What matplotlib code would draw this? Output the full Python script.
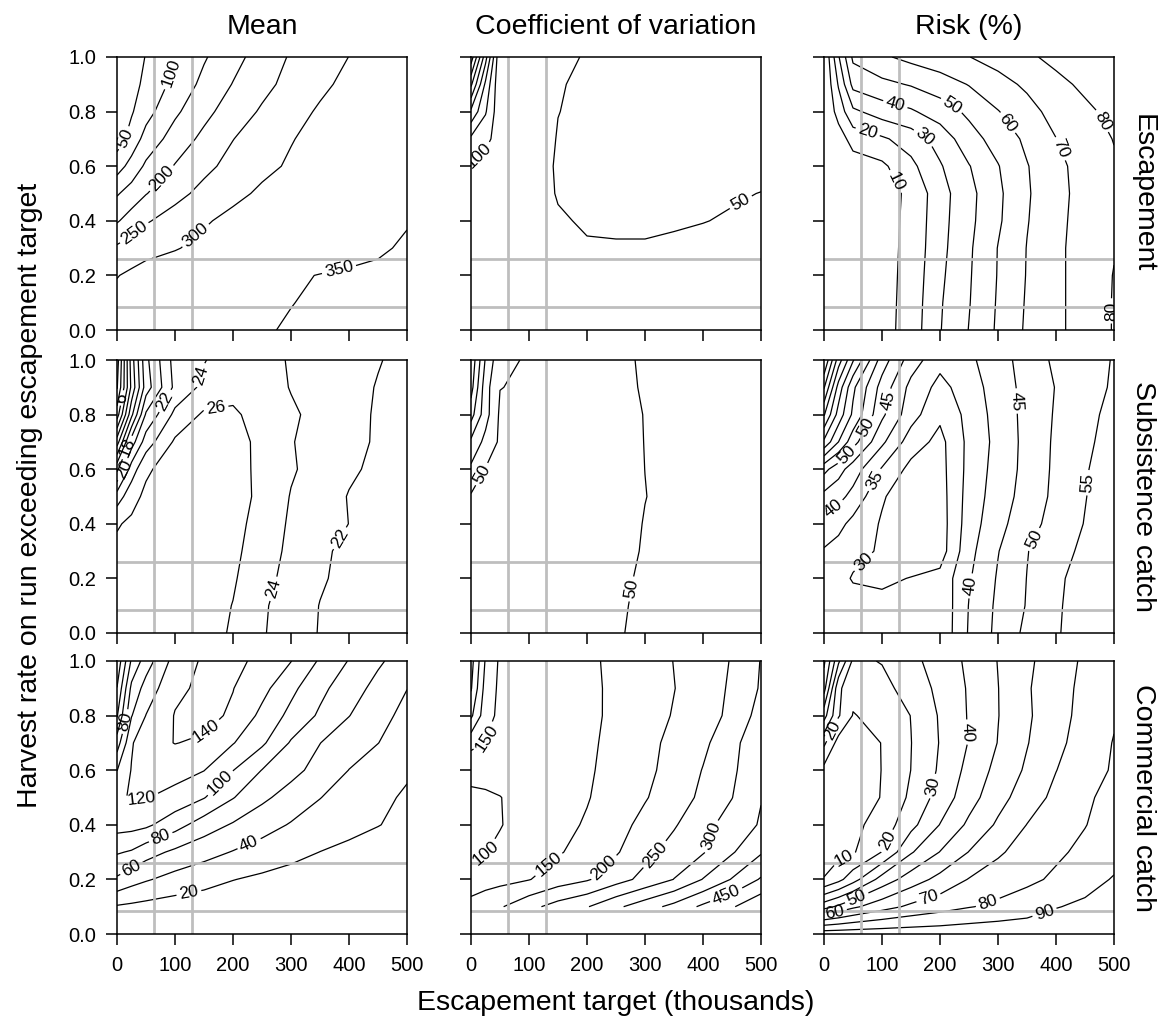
import numpy as np
import matplotlib
matplotlib.use("Agg")
import matplotlib.pyplot as plt
from matplotlib.ticker import FormatStrFormatter

plt.rcParams['font.family'] = ['Liberation Sans', 'DejaVu Sans']

# grid: escapement target (thousands) x harvest rate; rows below go from rate 1.0 down to 0.0
targets = [0, 25, 50, 100, 150, 200, 250, 300, 350, 400, 450, 500]
rates = [1.0, 0.9, 0.8, 0.7, 0.6, 0.5, 0.4, 0.3, 0.2, 0.1, 0.0]

esc_mean = [
    [5, 28, 52, 98, 145, 184, 221, 255, 278, 300.5, 320, 335],
    [8, 34, 61, 115, 163, 202, 236, 265, 290, 312, 328, 340],
    [10, 45, 82, 141, 186, 224, 256, 282, 306, 318, 330, 342],
    [25, 70, 118, 172, 212, 249, 274, 298, 312, 324, 335, 344],
    [78, 118, 159, 203, 238, 265, 290, 305, 318, 328, 337, 345],
    [145, 172, 198, 235, 264, 289, 307, 318, 328, 336, 342, 348],
    [195, 222, 245, 271, 295, 312, 322, 330, 337, 342, 346, 349],
    [258, 273, 285, 297, 312, 322, 330, 337, 341, 345, 348, 352],
    [298, 309, 318, 328, 335, 340, 344, 348, 350.5, 352, 353, 352],
    [315, 320, 325, 332, 338, 342, 346, 349.5, 353, 355, 356, 356],
    [322, 326, 330, 337, 341, 345, 348, 352, 355, 357, 358, 358],
]
esc_cv = [
    [480, 270, 55, 53, 51.5, 49.5, 48, 47, 46.5, 46, 46, 46],
    [360, 190, 58, 54, 50.8, 48, 46, 45, 44.5, 44, 44, 44],
    [240, 155, 64, 56, 50.3, 46.5, 44.5, 43.5, 43, 43, 43, 43.5],
    [140, 112, 80, 62, 49, 45, 44, 43, 43, 43, 44, 45],
    [92, 82, 72, 60, 48, 45, 44, 44, 44, 45, 46, 47],
    [85, 76, 68, 58, 49, 46, 45, 45.5, 46.5, 48, 49, 50.2],
    [80, 73, 66, 57, 51.5, 48.5, 48, 48, 48.7, 49.7, 51, 52.5],
    [78, 71, 65, 58, 54, 51.2, 51, 51, 52, 53, 54, 56],
    [77, 70, 64, 58, 55, 54, 53.5, 53.5, 54, 55, 56, 58],
    [76, 70, 64, 59, 56, 55, 55, 55, 56, 57, 58, 60],
    [75, 69, 64, 59, 57, 56, 56, 56, 57, 58, 60, 62],
]
esc_risk = [
    [0, 29, 52, 58.5, 62.8, 66.4, 69.8, 74.3, 78.7, 82, 84, 86],
    [0, 21, 43, 47.5, 50.8, 55, 60.5, 66, 72, 78, 81.5, 84],
    [0, 14, 28, 34.7, 38.7, 45, 52, 59.6, 66, 74, 78.5, 82],
    [0, 5, 14, 18.5, 24.5, 34, 46, 54, 62, 69.8, 76, 80.3],
    [2, 3.5, 5, 8, 17.5, 29, 39.5, 49.5, 59.5, 67, 74.5, 79],
    [2, 3, 4, 6, 12, 26, 37, 48, 59, 66.5, 74, 78.5],
    [2, 3, 4, 6, 12.5, 26.5, 37.5, 48.5, 59.5, 67, 74.5, 79],
    [2, 3, 4, 6, 13, 27, 38.5, 50.3, 60.3, 67.5, 75, 79.5],
    [2, 3, 4, 6, 13.5, 28, 39, 50.5, 60.5, 67.5, 75, 80.3],
    [2, 3, 4, 6, 14, 29, 39.5, 51, 61, 67.5, 75, 80.5],
    [2, 3, 4, 6, 14.5, 29.5, 40.3, 51.5, 61.5, 67.5, 75, 80.5],
]
sub_mean = [
    [1, 11, 17.5, 22.8, 23.9, 25, 24.8, 23.8, 23.3, 22.7, 22.1, 21.5],
    [1.8, 10.5, 17, 22.5, 24.5, 25.6, 25, 23.9, 23.2, 22.6, 21.9, 21.3],
    [5, 13.5, 20.3, 24.5, 26.3, 26.2, 25.5, 24.3, 23.4, 22.6, 21.8, 21.2],
    [11, 19, 23, 26.3, 27, 26.6, 25.6, 24.1, 23.3, 22.5, 21.8, 21.2],
    [17.5, 23, 25.6, 27.3, 27.5, 26.8, 25.5, 24.2, 23.3, 22.3, 21.6, 21.0],
    [23, 25.2, 26.5, 27.4, 27.6, 26.9, 25.5, 23.9, 23.0, 21.9, 21.4, 20.9],
    [25.8, 26.4, 26.8, 27.3, 27.3, 26.6, 25.3, 23.7, 22.9, 21.98, 21.3, 20.8],
    [26.5, 26.7, 26.9, 27.2, 27.1, 26.4, 25.1, 23.5, 22.3, 21.6, 21.1, 20.7],
    [26.6, 26.8, 26.9, 27.1, 26.9, 26.2, 24.8, 23.2, 22.2, 21.5, 21.0, 20.6],
    [26.6, 26.8, 26.9, 27.0, 26.8, 25.95, 24.3, 23.0, 21.95, 21.4, 20.9, 20.5],
    [26.5, 26.7, 26.8, 26.9, 26.7, 25.8, 24.2, 22.9, 21.9, 21.3, 20.8, 20.4],
]
sub_cv = [
    [290, 145, 62, 44.5, 43, 44, 47.5, 51.3, 54, 56, 57.5, 59],
    [270, 120, 51, 43.5, 42.5, 43.5, 47, 51, 53.8, 55.8, 57.3, 58.8],
    [220, 120, 42, 41, 41.5, 43, 46.5, 50.3, 53.5, 55.5, 57, 58.5],
    [140, 85, 42, 40.5, 41, 42.5, 46, 50.2, 53.2, 55.3, 56.8, 58.2],
    [90, 48, 41, 40, 40.5, 42, 45.5, 50.05, 53, 55, 56.5, 58],
    [45, 42, 40.5, 39.5, 40, 41.5, 45, 49.8, 52.8, 54.8, 56.3, 57.8],
    [43, 41, 40, 39.5, 40, 41.5, 45.5, 50.5, 53, 55, 56.5, 58],
    [42, 40.5, 39.5, 39, 39.8, 41.5, 46, 51, 53.2, 55, 56.5, 58],
    [42, 40.5, 39.5, 39, 40, 42, 47.8, 51.5, 53.5, 55.2, 56.7, 58.2],
    [42, 40.5, 39.5, 39, 40, 42.5, 48.5, 52, 54, 55.5, 57, 58.5],
    [42, 40.5, 39.5, 39, 40.5, 43, 49, 52.3, 54.2, 55.7, 57.2, 58.7],
]
sub_risk = [
    [100, 82.5, 70.5, 52.5, 42.5, 36.5, 39, 43, 47, 51, 53, 55.3],
    [90.5, 73, 61, 48, 38.5, 33.5, 37.5, 42.5, 46.5, 50.2, 53, 55.6],
    [80.5, 68, 59, 46, 37, 31, 36.5, 42, 46.5, 50.5, 53.7, 56.3],
    [69, 60, 52, 41, 32.5, 28.5, 36.3, 41.5, 46.5, 50.8, 54, 57],
    [51.5, 47, 42.5, 34.5, 28.5, 28.2, 36.5, 42, 46.5, 51, 54.6, 57.5],
    [43.5, 41.5, 38.5, 30.5, 27, 27.8, 37, 42.5, 47, 51.2, 54.8, 58],
    [38.5, 36.5, 33.5, 29.5, 26.5, 27.5, 37.5, 43.5, 48, 52, 55.2, 58.2],
    [34.5, 33, 31.8, 29.3, 26.5, 27.5, 38.5, 44.8, 49.8, 53.2, 56, 59],
    [34, 32, 29.5, 29, 30.2, 31.5, 39.5, 45.5, 50.1, 54.3, 56.5, 58.7],
    [33.5, 33, 32.5, 31.5, 31, 31, 40.2, 46, 50.3, 54.5, 56.7, 58.8],
    [33, 32.5, 32, 31.5, 31, 31, 40.5, 46.3, 51.2, 54.6, 57, 59],
]
com_mean = [
    [5, 63, 90, 128, 143, 146, 134, 120.5, 97.5, 79, 63, 50],
    [20.5, 85, 108, 136, 144, 140.5, 126, 105, 85, 69, 54, 40.3],
    [38, 99, 120.5, 141, 146, 137, 115, 94.5, 77, 60.5, 46.5, 34.5],
    [70, 118, 133, 140.5, 137, 121, 103.5, 78, 60.3, 48.5, 40.3, 29.5],
    [99.5, 121, 129, 128, 120.5, 100.5, 79.5, 66, 53, 39.7, 30, 22],
    [118, 121, 121, 113, 101, 81, 64, 52, 40.5, 31.5, 23.5, 18],
    [108, 107, 104, 88, 70, 58, 48, 38.5, 31, 25, 20.5, 16],
    [82, 78, 68, 56, 47, 39, 31.5, 25.5, 19.8, 16, 13, 11],
    [57, 48, 42, 33, 27, 20.5, 16.5, 13, 10.5, 8.5, 7, 6],
    [18, 16, 14, 11, 9, 7.5, 6, 5, 4, 3.5, 3, 2.5],
    [0, 0, 0, 0, 0, 0, 0, 0, 0, 0, 0, 0],
]
com_cv = [
    [320, 195, 142, 132, 134, 143, 158, 178, 201, 224, 253, 302],
    [305, 180, 140, 130, 133, 142, 157, 177, 199, 222, 258, 305],
    [260, 170, 138, 128, 132, 141, 158, 180, 203, 227, 262, 320],
    [165, 148, 135, 126, 131, 142, 162, 186, 212, 240, 282, 345],
    [112, 112, 116, 124, 132, 143, 168, 190, 215, 252, 290, 345],
    [92, 95, 99, 116, 131, 147, 172, 197, 222, 262, 299, 348],
    [85, 90, 98, 118, 135, 155, 185, 212, 245, 285, 320, 355],
    [90, 99, 108, 125, 145, 170, 195, 235, 270, 296, 345, 395],
    [125, 130, 135, 148, 175, 195, 230, 265, 301, 352, 403, 455],
    [165, 180, 195, 235, 270, 297, 340, 378, 415, 460, 495, 540],
    [np.nan] * 12,
]
com_risk = [
    [72, 42, 18, 20.5, 27.5, 34, 42, 50.3, 58, 65.5, 71.5, 76],
    [64, 22, 13, 17, 24, 32.5, 41, 49.8, 59, 66, 72.5, 77.5],
    [44, 21, 9.5, 13, 20.2, 31, 40.8, 49.7, 58.5, 66.5, 73, 79],
    [22, 6, 6, 10.2, 19.8, 30.5, 40.5, 50.3, 59.5, 67.7, 74, 80.5],
    [7, 6.5, 7, 10.1, 20.1, 31.5, 43, 53, 61.5, 69.8, 76, 81],
    [6, 5.5, 6.5, 10.3, 22, 34, 46, 56.5, 65, 72.5, 78.5, 83],
    [6, 6, 7.5, 14, 27, 40.3, 52, 61.5, 70.2, 75.5, 79.7, 84],
    [7, 7, 9, 20.3, 39, 50.3, 60.3, 68.5, 74.5, 78.5, 82, 86],
    [10.3, 17, 26, 44, 55, 63, 70.5, 75, 78, 81.5, 86, 90.8],
    [46, 52, 58, 66, 72, 76, 79.5, 82, 85, 89.5, 92, 94],
    [96, 96, 96, 96, 96, 96, 96.5, 97, 97, 97.5, 97.5, 98],
]

# reference escapement targets and harvest rates drawn as grey guide lines
ref_targets = [64, 130]
ref_rates = [0.083, 0.26]

# rough spots where the contour labels sit (label goes on the nearest line)
lab_esc_mean = [(17, 0.70), (95, 0.94), (80, 0.55), (32, 0.35), (138, 0.34), (385, 0.20)]
lab_esc_cv = [(21, 0.62), (470, 0.45)]
lab_esc_risk = [(122, 0.82), (216, 0.81), (311, 0.75), (466, 0.75), (73, 0.71),
                (165, 0.68), (403, 0.66), (119, 0.54), (497, 0.07)]
lab_sub_mean = [(144, 0.945), (83, 0.85), (172, 0.805), (11, 0.86), (12, 0.60),
                (17, 0.68), (382, 0.35), (273, 0.16)]
lab_sub_cv = [(16, 0.585), (280, 0.16)]
lab_sub_risk = [(110, 0.85), (334, 0.85), (76, 0.75), (36, 0.66), (88, 0.56),
                (457, 0.55), (22, 0.44), (365, 0.34), (73, 0.25), (262, 0.17)]
lab_com_mean = [(11, 0.78), (155, 0.74), (43, 0.485), (184, 0.54), (78, 0.34),
                (26, 0.235), (230, 0.32), (124, 0.15)]
lab_com_cv = [(24, 0.72), (24, 0.30), (136, 0.25), (231, 0.24), (323, 0.28),
              (424, 0.35), (438, 0.155)]
lab_com_risk = [(12, 0.75), (251, 0.74), (191, 0.54), (119, 0.33), (36, 0.27),
                (19, 0.07), (59, 0.12), (182, 0.12), (281, 0.125), (380, 0.08)]

col_titles = ["Mean", "Coefficient of variation", "Risk (%)"]
row_titles = ["Escapement", "Subsistence catch", "Commercial catch"]

panels = [
    [(esc_mean, range(50, 351, 50), lab_esc_mean),
     (esc_cv, range(50, 501, 50), lab_esc_cv),
     (esc_risk, range(10, 100, 10), lab_esc_risk)],
    [(sub_mean, range(2, 27, 2), lab_sub_mean),
     (sub_cv, range(50, 301, 50), lab_sub_cv),
     (sub_risk, range(30, 100, 5), lab_sub_risk)],
    [(com_mean, range(20, 161, 20), lab_com_mean),
     (com_cv, range(100, 601, 50), lab_com_cv),
     (com_risk, range(10, 100, 10), lab_com_risk)],
]

W, H = 1161, 1024
fig = plt.figure(figsize=(W / 100, H / 100), dpi=100)
lefts = [117, 471, 824]
tops = [57, 360, 661]
pw, ph = 290, 273

x = np.array(targets, dtype=float)
y = np.array(rates)[::-1]

for r in range(3):
    for c in range(3):
        grid, levels, spots = panels[r][c]
        ax = fig.add_axes([lefts[c] / W, 1 - (tops[r] + ph) / H, pw / W, ph / H])
        ax.set_xlim(0, 500)
        ax.set_ylim(0, 1)
        z = np.ma.masked_invalid(np.array(grid, dtype=float)[::-1])
        cs = ax.contour(x, y, z, levels=list(levels), colors='black', linewidths=0.9)
        ax.clabel(cs, inline=True, inline_spacing=3, fmt='%g', fontsize=12.5,
                  manual=spots)
        for t in ref_targets:
            ax.axvline(t, color='#bebebe', lw=2, zorder=2.5)
        for h in ref_rates:
            ax.axhline(h, color='#bebebe', lw=2, zorder=2.5)
        ax.set_xticks(range(0, 501, 100))
        ax.set_yticks(np.arange(0, 1.01, 0.2))
        ax.yaxis.set_major_formatter(FormatStrFormatter('%.1f'))
        ax.tick_params(direction='out', length=8, width=1.1, labelsize=14.5,
                       labelleft=(c == 0), labelbottom=(r == 2))
        ax.tick_params(axis='x', pad=8)
        ax.tick_params(axis='y', pad=7)
        for s in ax.spines.values():
            s.set_linewidth(1.1)

for c, t in enumerate(col_titles):
    fig.text((lefts[c] + pw / 2) / W, 1 - 27 / H, t, ha='center', va='center', fontsize=20.5)
for r, t in enumerate(row_titles):
    fig.text(1143 / W, 1 - (tops[r] + ph / 2) / H, t, ha='center', va='center',
             rotation=-90, fontsize=20.5)
fig.text((lefts[1] + pw / 2) / W, 1 - 1003 / H, "Escapement target (thousands)",
         ha='center', va='center', fontsize=20.5)
fig.text(30 / W, 1 - 495 / H, "Harvest rate on run exceeding escapement target",
         ha='center', va='center', rotation=90, fontsize=20.5)

fig.savefig("out.png", dpi=100)
